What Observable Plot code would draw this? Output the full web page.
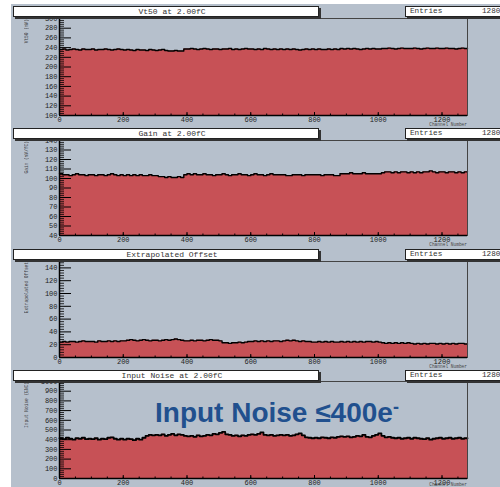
<!DOCTYPE html>
<html><head><meta charset="utf-8">
<script src="https://cdn.jsdelivr.net/npm/d3@7"></script>
<script src="https://cdn.jsdelivr.net/npm/@observablehq/plot@0.6"></script>
<style>
body{margin:0;background:#fff}
#root{position:relative;width:500px;height:487px;overflow:hidden;background:#fff}
#bg{position:absolute;left:11px;top:4px;right:0;bottom:0;background:#b6c0cc}
.panel{position:absolute;left:0}
.box{position:absolute;background:#fff;border:1px solid #222;box-shadow:2px 2px 0 #333;font-family:"Liberation Mono",monospace;font-size:8px;color:#333;line-height:9px;box-sizing:border-box;white-space:nowrap;overflow:hidden}
.ytitle{position:absolute;writing-mode:vertical-rl;transform:rotate(180deg);font-family:"Liberation Mono",monospace;font-size:4.5px;line-height:5px;color:#444;white-space:nowrap}
.xtitle{position:absolute;right:33px;font-family:"Liberation Mono",monospace;font-size:4.5px;line-height:5px;color:#444;white-space:nowrap}
#note{position:absolute;left:155px;top:393px;font-family:"Liberation Sans",Arial,sans-serif;font-weight:bold;font-size:28px;line-height:28px;color:#21508e;white-space:nowrap}
#note span{font-size:18px;vertical-align:9px}
</style></head><body><div id="root"><div id="bg"></div></div>
<script>
// channel bins (10 channels each), 0..1270
const channelBins = d3.range(0, 1280, 10);
const xTicks = [0, 200, 400, 600, 800, 1000, 1200];
const xMinorTicks = d3.range(0, 1281, 50);

const titles = ["Vt50 at 2.00fC", "Gain at 2.00fC", "Extrapolated Offset", "Input Noise at 2.00fC"];
const yTitles = ["Vt50 (mV)", "Gain (mV/fC)", "Extrapolated Offset", "Input Noise (ENC)"];
const entries = 1280;

const vt50Values = [
236,237,235,236,237,236,235,237,236,236,
237,235,236,236,237,236,235,236,237,236,
235,236,235,234,236,235,235,234,236,235,
234,235,236,234,233,233,234,233,233,237,
237,238,237,236,237,238,237,236,237,237,
236,237,237,238,236,237,236,237,238,237,
237,236,237,236,238,237,236,237,236,237,
236,237,236,237,236,235,236,237,236,237,
236,237,236,236,237,236,237,236,238,237,
238,237,238,237,236,237,238,237,238,237,
237,238,238,239,238,237,238,239,238,238,
238,239,238,237,238,239,238,238,239,238,
238,239,238,238,237,238,239,238];
const gainValues = [
105,104,104,103,104,105,104,104,103,104,
104,103,104,104,103,104,105,104,103,104,
103,104,103,104,103,104,103,103,104,103,
103,102,102,101,102,101,101,102,101,104,
105,104,105,104,104,105,104,104,103,104,
104,105,104,103,104,104,105,104,104,103,
104,105,104,104,103,104,105,104,104,104,
104,103,103,104,104,104,103,104,104,104,
104,104,103,104,104,104,103,103,105,105,
105,106,105,105,105,106,105,105,105,105,
105,106,107,107,106,107,106,107,107,106,
107,106,107,106,107,107,108,107,106,107,
107,106,107,107,106,107,106,107];
const offsetValues = [
24,25,24,25,25,24,25,26,25,25,
25,24,26,25,25,26,25,26,25,26,
26,27,28,27,26,27,28,27,26,27,
27,26,27,28,27,28,29,28,27,26,
26,27,26,27,27,26,27,28,27,27,
26,23,23,22,23,23,24,23,24,25,
25,26,25,26,25,26,25,26,26,25,
26,27,26,27,26,25,26,25,25,24,
24,25,24,25,24,25,24,24,25,24,
25,24,25,24,25,24,25,25,24,25,
24,23,22,23,22,23,22,23,22,23,
22,21,22,21,22,21,22,22,21,22,
21,22,21,22,21,22,22,21];
const noiseValues = [
415,405,420,410,400,415,410,420,405,410,
405,415,400,410,405,420,425,410,400,410,
400,410,405,395,410,400,420,440,450,445,
450,445,455,440,450,460,445,455,450,440,
435,440,430,445,435,440,450,445,460,455,
470,480,455,450,440,445,435,445,440,450,
455,450,460,475,450,445,450,440,445,450,
445,450,440,445,455,465,445,425,420,415,
420,415,425,420,415,425,420,430,435,430,
435,425,430,440,435,450,430,425,440,450,
465,440,425,430,420,415,420,410,415,420,
410,420,415,410,405,415,400,410,415,420,
410,415,420,410,415,420,410,415];

const vt50Ticks = d3.range(100, 301, 20);
const gainTicks = d3.range(40, 141, 10);
const offsetTicks = d3.range(0, 141, 20);
const noiseTicks = d3.range(0, 1001, 100);

const panels = [
  {values: vt50Values, domain: [100, 300], ticks: vt50Ticks, minor: 4, top: 18, bottom: 115, boxTop: 6, xtOff: 7},
  {values: gainValues, domain: [40, 140], ticks: gainTicks, minor: 2, top: 140, bottom: 235, boxTop: 128, xtOff: 7},
  {values: offsetValues, domain: [0, 150], ticks: offsetTicks, minor: 4, top: 261, bottom: 357, boxTop: 249, xtOff: 7},
  {values: noiseValues, domain: [0, 1000], ticks: noiseTicks, minor: 20, top: 381, bottom: 478, boxTop: 370, xtOff: 4}
];

const root = document.getElementById("root");
const red = "#c75156";
const mt = 4, mb = 12, ml = 59, mr = 33;
const innerW = 500 - ml - mr;

panels.forEach((p, k) => {
  const data = channelBins.map((c, i) => ({x: c, y: p.values[i]}));
  data.push({x: 1280, y: p.values[p.values.length - 1]});
  const plotH = p.bottom - p.top;
  const minors = d3.range(p.domain[0], p.domain[1] + 0.001, p.minor).filter(v => !p.ticks.includes(v));
  const chart = Plot.plot({
    width: 500, height: plotH + mt + mb,
    marginLeft: ml, marginRight: mr, marginTop: mt, marginBottom: mb,
    style: {background: "transparent", fontFamily: "Liberation Mono, monospace", fontSize: "7px", color: "#222"},
    x: {domain: [0, 1280], ticks: xTicks, tickSize: 0, tickPadding: 2, tickFormat: d => String(d), label: null},
    y: {domain: p.domain, ticks: p.ticks, tickSize: 0, tickPadding: 2, tickFormat: d => String(d), label: null},
    marks: [
      Plot.areaY(data, {x: "x", y1: () => p.domain[0], y2: "y", curve: "step-after", fill: red}),
      Plot.lineY(data, {x: "x", y: "y", curve: "step-after", stroke: "#000", strokeWidth: k === 3 ? 1.8 : 1.4}),
      Plot.tickY(minors, {y: d => d, insetRight: innerW - 5, stroke: "#000", strokeWidth: 0.8}),
      Plot.tickY(p.ticks, {y: d => d, insetRight: innerW - 12, stroke: "#000", strokeWidth: 1}),
      Plot.tickX(xMinorTicks, {x: d => d, insetTop: plotH - 1.5, stroke: "#000"}),
      Plot.tickX(xTicks, {x: d => d, insetTop: plotH - 3, stroke: "#000"}),
      Plot.frame({stroke: "#444"}),
      Plot.ruleX([0], {stroke: "#000", strokeWidth: 1.5}),
      Plot.ruleY([p.domain[0]], {stroke: "#000", strokeWidth: 1.5})
    ]
  });
  chart.classList.add("panel");
  chart.style.top = (p.top - mt) + "px";
  root.appendChild(chart);

  const yt = document.createElement("div");
  yt.className = "ytitle";
  yt.textContent = yTitles[k];
  yt.style.left = "24px";
  yt.style.top = (p.top + 1) + "px";
  root.appendChild(yt);

  const xt = document.createElement("div");
  xt.className = "xtitle";
  xt.textContent = "Channel Number";
  xt.style.top = (p.bottom + p.xtOff) + "px";
  root.appendChild(xt);

  const tb = document.createElement("div");
  tb.className = "box";
  tb.style.cssText = `left:13px;top:${p.boxTop}px;width:306px;height:11px;text-align:center;padding-left:12px;`;
  tb.textContent = titles[k];
  root.appendChild(tb);

  const eb = document.createElement("div");
  eb.className = "box";
  eb.style.cssText = `left:405px;top:${p.boxTop}px;width:110px;height:11px;font-size:7.7px;`;
  eb.innerHTML = `<span style="position:absolute;left:4px;top:0">Entries</span><span style="position:absolute;left:76px;top:0">${entries}</span>`;
  root.appendChild(eb);
});

const note = document.createElement("div");
note.id = "note";
note.innerHTML = "Input Noise ≤400e<span>-</span>";
root.appendChild(note);
</script></body></html>
